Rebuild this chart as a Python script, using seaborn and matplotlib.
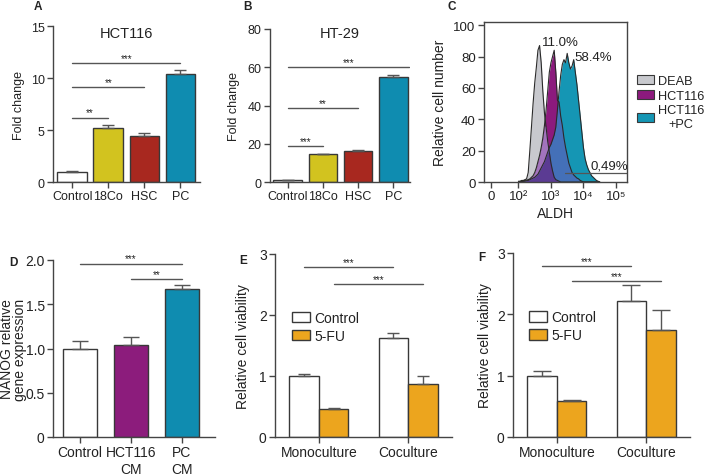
import numpy as np
import pandas as pd
import seaborn as sns
import matplotlib.pyplot as plt
from matplotlib.patches import Patch

# ---- data ----
bar_cats = ["Control", "18Co", "HSC", "PC"]
hct116_fold = [1.0, 5.15, 4.47, 10.4]
hct116_err = [0.05, 0.3, 0.22, 0.4]
ht29_fold = [1.0, 14.4, 16.0, 55.1]
ht29_err = [0.2, 0.3, 0.5, 0.6]
bar_colors = ["white", "#d2c31f", "#a8281f", "#0f8cb0"]

# flow cytometry histograms (x in decades of ALDH signal, y = relative cell number)
aldh_x = np.round(np.arange(2.0, 4.55, 0.05), 2)
deab_counts = [0.5, 0.5, 1, 1, 1.5, 2, 6, 20, 35, 50, 63, 73, 84, 87, 76, 58, 44, 35, 26,
               19, 12, 7, 3, 1.5, 1, 0.5, 0, 0, 0, 0, 0, 0, 0, 0, 0, 0, 0, 0, 0, 0, 0, 0, 0,
               0, 0, 0, 0, 0, 0, 0, 0]
hct_counts = [0, 0.3, 0.5, 0.8, 1, 1.2, 1.5, 2, 3, 4, 6, 9, 13, 17, 22, 28, 36, 46, 58, 70,
              76, 80, 84, 70, 52, 51, 42, 36, 28, 22, 17, 12, 9, 6, 4.5, 3.5, 2.5, 2, 1, 0.5,
              0, 0, 0, 0, 0, 0, 0, 0, 0, 0, 0]
hctpc_counts = [0, 0.2, 0.3, 0.4, 0.5, 0.8, 1, 1.5, 2, 2.5, 3, 4, 5, 7, 9, 11, 13, 16, 19, 22,
                24, 27, 30, 35, 46, 58, 68, 75, 78, 76, 82, 76, 72, 74, 78, 70, 62, 52, 42,
                32, 22, 15, 11, 8, 6, 4, 3, 2, 1, 0.5, 0]
hist_labels = ["DEAB", "HCT116", "HCT116\n+PC"]

nanog_cats = ["Control", "HCT116\nCM", "PC\nCM"]
nanog_expr = [1.0, 1.04, 1.67]
nanog_err = [0.085, 0.085, 0.05]
nanog_colors = ["white", "#8c1c7c", "#0f8cb0"]

cultures = ["Monoculture", "Coculture"]
treatments = ["Control", "5-FU"]
viab_e = {"Control": [0.993, 1.62], "5-FU": [0.453, 0.862]}
viab_e_err = {"Control": [0.045, 0.08], "5-FU": [0.015, 0.135]}
viab_f = {"Control": [1.0, 2.22], "5-FU": [0.585, 1.75]}
viab_f_err = {"Control": [0.07, 0.26], "5-FU": [0.02, 0.32]}
treat_colors = {"Control": "white", "5-FU": "#eca51e"}

sns.set_style("ticks")
plt.rcParams["font.family"] = ["Liberation Sans", "DejaVu Sans"]

EDGE = "#383838"
AX = "#444444"
TXT = "#222222"

fig = plt.figure(figsize=(7.09, 4.77), dpi=100)


def px_axes(l, t, r, b):
    W, H = 709, 477
    return fig.add_axes([l / W, 1 - b / H, (r - l) / W, (b - t) / H])


def style(ax, size=10):
    sns.despine(ax=ax)
    for s in ax.spines.values():
        s.set_color(AX)
        s.set_linewidth(1)
    ax.tick_params(direction="out", length=4, width=1, color=AX, labelsize=size,
                   labelcolor=TXT, pad=2)


def sig(ax, x0, x1, y, stars):
    ax.plot([x0, x1], [y, y], color="#555555", lw=1)
    ax.text((x0 + x1) / 2, y, stars, ha="center", va="bottom", fontsize=7, color=TXT)


def bar_panel(ax, cats, vals, errs, colors, width, capsize):
    df = pd.DataFrame({"cat": cats, "val": vals})
    sns.barplot(data=df, x="cat", y="val", hue="cat", palette=colors, width=width,
                saturation=1, edgecolor=EDGE, linewidth=1, legend=False, ax=ax)
    ax.errorbar(range(len(vals)), vals, yerr=[np.zeros(len(vals)), errs], fmt="none",
                ecolor="#555555", elinewidth=1, capsize=capsize, capthick=1)
    ax.set_xlabel("")


# ---- A ----
axA = px_axes(53, 27, 200, 183)
bar_panel(axA, bar_cats, hct116_fold, hct116_err, bar_colors, 0.82, 4)
axA.set_xlim(-0.53, 3.54)
axA.set_ylim(0, 15)
axA.set_yticks([0, 5, 10, 15])
axA.set_ylabel("Fold change", fontsize=9, color=TXT)
axA.yaxis.set_label_coords(-0.19, 0.5)
axA.text(0.5, 0.955, "HCT116", transform=axA.transAxes, ha="center", va="center",
         fontsize=10.5, color=TXT)
style(axA, 9)
sig(axA, 0, 1, 6.2, "**")
sig(axA, 0, 2, 9.1, "**")
sig(axA, 0, 3, 11.4, "***")

# ---- B ----
axB = px_axes(270, 30, 410, 183)
bar_panel(axB, bar_cats, ht29_fold, ht29_err, bar_colors, 0.81, 4)
axB.set_xlim(-0.5, 3.47)
axB.set_ylim(0, 80)
axB.set_yticks([0, 20, 40, 60, 80])
axB.set_ylabel("Fold change", fontsize=9, color=TXT)
axB.yaxis.set_label_coords(-0.215, 0.5)
axB.text(0.5, 0.975, "HT-29", transform=axB.transAxes, ha="center", va="center",
         fontsize=10.5, color=TXT)
style(axB, 9)
sig(axB, 0, 1, 18.6, "***")
sig(axB, 0, 2, 38.6, "**")
sig(axB, 0, 3.45, 60, "***")

# ---- C ----
axC = px_axes(484, 23, 627, 183)
grey_c, purple_c, teal_c = "#c8c9ce", "#8c1a7d", "#1596b4"
axC.fill_between(aldh_x, 0, deab_counts, color=grey_c, lw=0)
axC.fill_between(aldh_x, 0, hct_counts, color=purple_c, lw=0)
axC.fill_between(aldh_x, 0, hctpc_counts, color=teal_c, lw=0)
axC.fill_between(aldh_x, 0, np.minimum(deab_counts, hct_counts), color="#a274bd", lw=0)
axC.fill_between(aldh_x, 0, np.minimum(hct_counts, hctpc_counts), color="#4470b8", lw=0)
axC.fill_between(aldh_x, 0, np.minimum(np.minimum(deab_counts, hct_counts), hctpc_counts),
                 color="#5b3b93", lw=0)
for counts in [deab_counts, hct_counts, hctpc_counts]:
    sns.lineplot(x=aldh_x, y=counts, color="#2a2a2a", lw=0.8, ax=axC)
axC.plot([3.43, 5.34], [5.5, 5.5], color="#555555", lw=0.9)
axC.text(3.28, 89, "11.0%", ha="center", va="center", fontsize=9.5, color=TXT)
axC.text(4.29, 79.5, "58.4%", ha="center", va="center", fontsize=9.5, color=TXT)
axC.text(4.8, 10.5, "0,49%", ha="center", va="center", fontsize=9.5, color=TXT)
axC.set_xlim(0.94, 5.34)
axC.set_ylim(0, 102)
axC.set_xticks([1.15, 2, 3, 4, 5])
axC.set_xticklabels(["0", "10²", "10³", "10⁴", "10⁵"])
axC.set_yticks(range(0, 101, 20))
for s in axC.spines.values():
    s.set_color(AX)
    s.set_linewidth(1)
axC.tick_params(direction="out", length=4, width=1, color=AX, labelsize=9.5,
                labelcolor=TXT, pad=2)
axC.set_xlabel("ALDH", fontsize=10, color=TXT, labelpad=3)
axC.set_ylabel("Relative cell number", fontsize=10, color=TXT)
axC.yaxis.set_label_coords(-0.26, 0.5)
handles = [Patch(facecolor=c, edgecolor=EDGE, lw=0.8) for c in [grey_c, purple_c, teal_c]]
leg = axC.legend(handles, hist_labels, loc="upper left", bbox_to_anchor=(1.035, 0.7),
                 frameon=False, fontsize=9.2, handlelength=1.3, handleheight=0.75,
                 handletextpad=0.3, labelspacing=0.2, borderaxespad=0)
for t in leg.get_texts():
    t.set_color(TXT)
    t.set_multialignment("center")

# ---- D ----
axD = px_axes(53, 261, 215, 438)
bar_panel(axD, nanog_cats, nanog_expr, nanog_err, nanog_colors, 0.67, 6)
axD.set_xlim(-0.53, 2.65)
axD.set_ylim(0, 2.0)
axD.set_yticks([0, 0.5, 1.0, 1.5, 2.0])
axD.set_yticklabels(["0", "0.5", "1.0", "1.5", "2.0"])
axD.set_ylabel("NANOG relative\ngene expression", fontsize=10, color=TXT, linespacing=0.95)
axD.yaxis.set_label_coords(-0.16, 0.5)
style(axD, 10)
sig(axD, 0, 2, 1.96, "***")
sig(axD, 1, 2, 1.78, "**")


# ---- E, F ----
def viab_panel(ax, vals, errs, capsize, sigs, leg_anchor, lab_x):
    rows = [(c, t, vals[t][i]) for t in treatments for i, c in enumerate(cultures)]
    df = pd.DataFrame(rows, columns=["culture", "treatment", "val"])
    sns.barplot(data=df, x="culture", y="val", hue="treatment", hue_order=treatments,
                palette=treat_colors, width=0.66, saturation=1, edgecolor=EDGE,
                linewidth=1, errorbar=None, ax=ax)
    centers = {}
    for cont, t in zip(ax.containers, treatments):
        xs = [b.get_x() + b.get_width() / 2 for b in cont]
        centers[t] = xs
        ax.errorbar(xs, vals[t], yerr=[np.zeros(2), errs[t]], fmt="none",
                    ecolor="#555555", elinewidth=1, capsize=capsize, capthick=1)
    for t, y in zip(treatments, sigs):
        sig(ax, centers[t][0], centers[t][1], y, "***")
    ax.set_xlim(-0.49, 1.49)
    ax.set_ylim(0, 3)
    ax.set_yticks([0, 1, 2, 3])
    ax.set_xlabel("")
    ax.set_ylabel("Relative cell viability", fontsize=10, color=TXT)
    ax.yaxis.set_label_coords(lab_x, 0.5)
    style(ax, 10)
    h = [Patch(facecolor=treat_colors[t], edgecolor=EDGE, lw=1) for t in treatments]
    lg = ax.legend(h, treatments, loc="upper left", bbox_to_anchor=leg_anchor,
                   frameon=False, fontsize=10, handlelength=1.3, handleheight=0.8,
                   handletextpad=0.3, labelspacing=0.3, borderaxespad=0)
    for t in lg.get_texts():
        t.set_color(TXT)


axE = px_axes(275, 255, 452, 438)
viab_panel(axE, viab_e, viab_e_err, 4.5, [2.78, 2.51], (0.065, 0.72), -0.14)
axF = px_axes(513, 254, 690, 438)
viab_panel(axF, viab_f, viab_f_err, 6.5, [2.79, 2.55], (0.06, 0.72), -0.12)

# panel letters
for letter, (x, y) in {"A": (38, 7), "B": (248, 7), "C": (452, 7), "D": (13, 263),
                       "E": (243, 261), "F": (482, 258)}.items():
    fig.text(x / 709, 1 - y / 477, letter, ha="center", va="center", fontsize=8.5,
             fontweight="bold", color=TXT)

fig.savefig("out.png", dpi=100)
